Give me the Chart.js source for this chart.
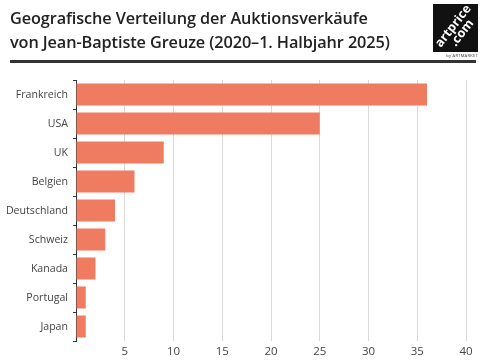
<!DOCTYPE html>
<html><head><meta charset="utf-8">
<script src="https://cdn.jsdelivr.net/npm/chart.js@4"></script>
<style>
html,body{margin:0;padding:0;background:#fff;}
#wrap{position:relative;width:483px;height:362px;overflow:hidden;font-family:"Open Sans",sans-serif;}
#title{position:absolute;left:10px;top:7px;font-size:16.3px;font-weight:600;line-height:23.5px;color:#222;letter-spacing:-0.1px;}
#rule{position:absolute;left:10px;top:60px;width:466px;height:3px;background:#333;}
#logo{position:absolute;left:433px;top:4px;width:45px;height:48px;background:#111;overflow:hidden;}
#logo .t{position:absolute;left:-6px;top:14px;width:60px;transform:rotate(-52deg);color:#fff;font-weight:700;font-size:12.5px;line-height:11px;text-align:center;}
#by{position:absolute;left:433px;top:53px;width:45px;font-size:4px;color:#333;letter-spacing:0.3px;text-align:right;}
canvas{position:absolute;left:0;top:0;}
</style></head>
<body>
<div id="wrap">
<canvas id="c" width="483" height="362"></canvas>
<div id="title">Geografische Verteilung der Auktionsverkäufe<br>von Jean-Baptiste Greuze (2020–1. Halbjahr 2025)</div>
<div id="rule"></div>
<div id="logo"><div class="t">artprice<br>.com</div></div>
<div id="by">by ARTMARKET</div>
</div>
<script>
const categories = ["Frankreich","USA","UK","Belgien","Deutschland","Schweiz","Kanada","Portugal","Japan"];
const values = [36,25,9,6,4,3,2,1,1];
const xTicks = [5,10,15,20,25,30,35,40];

new Chart(document.getElementById('c'), {
  type: 'bar',
  data: { labels: categories, datasets: [{ data: values, backgroundColor: '#EF7B60', borderWidth: 0, categoryPercentage: 0.76, barPercentage: 1 }] },
  options: {
    indexAxis: 'y', responsive: false, animation: false,
    layout: { padding: { top: 80, right: 17, left: 0, bottom: 0 } },
    plugins: { legend: { display: false }, tooltip: { enabled: false } },
    scales: {
      x: {
        min: 0, max: 40,
        afterBuildTicks: s => { s.ticks = [0].concat(xTicks).map(v => ({ value: v })); },
        afterFit: s => { s.height = 21; },
        ticks: { font: { family: 'Open Sans', size: 11.5 }, color: '#444', padding: 4, callback: v => v === 0 ? '' : v },
        grid: { color: c => c.tick && c.tick.value === 0 ? 'rgba(0,0,0,0)' : '#d9d9d9', drawTicks: false },
        border: { display: false }
      },
      y: {
        afterFit: s => { s.width = 76; },
        ticks: { font: { family: 'Open Sans', size: 10.6 }, color: '#444', padding: 5 },
        grid: { offset: true, drawOnChartArea: false, drawTicks: true, tickLength: 3, color: '#333' },
        border: { display: true, color: '#333', width: 1 }
      }
    }
  }
});
</script>
</body></html>
